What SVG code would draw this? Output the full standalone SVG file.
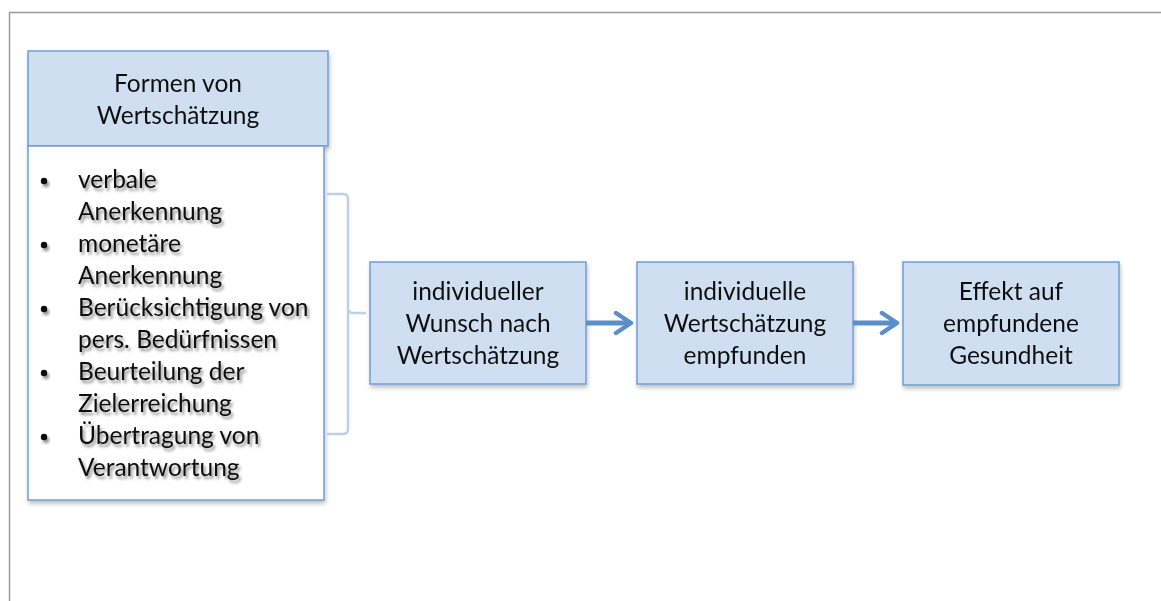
<svg xmlns="http://www.w3.org/2000/svg" width="1161" height="601" viewBox="0 0 1161 601">
  <style>
    .box { fill: #cfdff1; stroke: #6f9fd4; stroke-width: 1.5; }
    .list { fill: #ffffff; stroke: #6f9fd4; stroke-width: 1.5; }
    .t { font-family: Lato, "Open Sans", "Liberation Sans", sans-serif; font-size: 24.5px; fill: #111111; }
    .c { text-anchor: middle; }
    .dot { fill: #111111; }
    .link { fill: none; stroke: #5b8fc9; stroke-width: 5; }
    .brace { fill: none; stroke: #bcd0e6; stroke-width: 2.5; }
  </style>
  <defs>
    <filter id="boxShadow" x="-10%" y="-10%" width="130%" height="130%">
      <feGaussianBlur in="SourceAlpha" stdDeviation="2"/>
      <feOffset dx="1" dy="3" result="b"/>
      <feComponentTransfer><feFuncA type="linear" slope="0.25"/></feComponentTransfer>
      <feMerge><feMergeNode/><feMergeNode in="SourceGraphic"/></feMerge>
    </filter>
    <filter id="textShadow" x="-10%" y="-20%" width="130%" height="160%">
      <feGaussianBlur in="SourceAlpha" stdDeviation="1.6"/>
      <feOffset dx="2" dy="3" result="b"/>
      <feComponentTransfer><feFuncA type="linear" slope="0.45"/></feComponentTransfer>
      <feMerge><feMergeNode/><feMergeNode in="SourceGraphic"/></feMerge>
    </filter>
    <marker id="chev" viewBox="0 0 10 10" refX="8" refY="5" markerWidth="5" markerHeight="5" orient="auto" markerUnits="strokeWidth">
      <path d="M2,1 L8,5 L2,9" fill="none" stroke="#5b8fc9" stroke-width="1.8" stroke-linecap="round" stroke-linejoin="round"/>
    </marker>
  </defs>

  <rect width="1161" height="601" fill="#ffffff"/>
  <!-- page frame -->
  <path d="M9.5,601 V12.5 H1161" fill="none" stroke="#9a9a9a" stroke-width="1.5"/>

  <!-- forms of appreciation: header and list -->
  <g id="forms-header" filter="url(#boxShadow)">
    <rect class="box" x="28" y="51" width="300" height="95"/>
    <text class="t c" x="178" y="92">Formen von</text>
    <text class="t c" x="178" y="124">Wertschätzung</text>
  </g>
  <g id="forms-list" filter="url(#boxShadow)">
    <rect class="list" x="28" y="146" width="296" height="354"/>
    <g filter="url(#textShadow)">
      <circle class="dot" cx="44" cy="181" r="3.2"/>
      <circle class="dot" cx="44" cy="245" r="3.2"/>
      <circle class="dot" cx="44" cy="309" r="3.2"/>
      <circle class="dot" cx="44" cy="373" r="3.2"/>
      <circle class="dot" cx="44" cy="437" r="3.2"/>
      <g class="t">
        <text x="78" y="188">verbale</text>
        <text x="78" y="220">Anerkennung</text>
        <text x="78" y="252">monetäre</text>
        <text x="78" y="284">Anerkennung</text>
        <text x="78" y="316">Berücksichtigung von</text>
        <text x="78" y="348">pers. Bedürfnissen</text>
        <text x="78" y="380">Beurteilung der</text>
        <text x="78" y="412">Zielerreichung</text>
        <text x="78" y="444">Übertragung von</text>
        <text x="78" y="476">Verantwortung</text>
      </g>
    </g>
  </g>

  <!-- process chain -->
  <g id="wish" filter="url(#boxShadow)">
    <rect class="box" x="370" y="262" width="216" height="122"/>
    <text class="t c" x="478" y="300">individueller</text>
    <text class="t c" x="478" y="332">Wunsch nach</text>
    <text class="t c" x="478" y="364">Wertschätzung</text>
  </g>
  <g id="perceived" filter="url(#boxShadow)">
    <rect class="box" x="637" y="262" width="216" height="122"/>
    <text class="t c" x="745" y="300">individuelle</text>
    <text class="t c" x="745" y="332">Wertschätzung</text>
    <text class="t c" x="745" y="364">empfunden</text>
  </g>
  <g id="health" filter="url(#boxShadow)">
    <rect class="box" x="903" y="262" width="216" height="123"/>
    <text class="t c" x="1011" y="300">Effekt auf</text>
    <text class="t c" x="1011" y="332">empfundene</text>
    <text class="t c" x="1011" y="364">Gesundheit</text>
  </g>

  <g id="connectors">
    <path class="brace" d="M327,194 H343 Q348,194 348,199 V308 Q348,313 353,313 H366 M348,308 V429 Q348,434 343,434 H327"/>
    <path class="link" d="M586,323 H631" marker-end="url(#chev)"/>
    <path class="link" d="M853,323 H897" marker-end="url(#chev)"/>
  </g>
</svg>
